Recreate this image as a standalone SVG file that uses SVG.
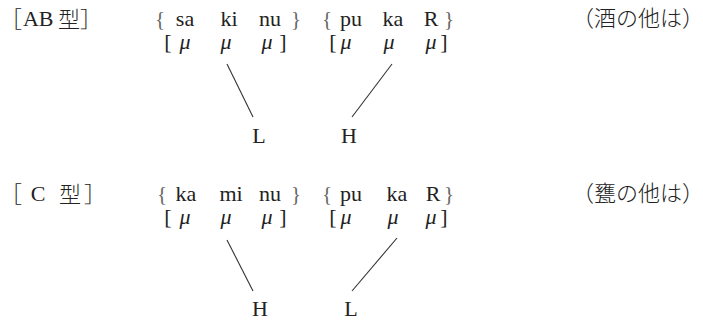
<svg xmlns="http://www.w3.org/2000/svg" width="703" height="320" viewBox="0 0 703 320">
<style>
text{font-family:"Liberation Serif","Noto Sans CJK JP",serif;font-size:22px;fill:#222;text-anchor:middle}
.cj{font-family:"Noto Sans CJK JP",sans-serif;font-size:22px;font-weight:300}
.st{text-anchor:start}
.mu{font-style:italic}
.br{fill:#666;font-size:21px}
.ln{stroke:#333;stroke-width:1.1;fill:none}
</style>
<rect width="703" height="320" fill="#fff"/>
<g id="blockAB">
<g id="labelAB"><text class="cj st" x="0" y="27">［</text><text x="31" y="26">A</text><text x="46" y="26">B</text><text class="cj" x="69" y="27">型</text><text class="cj" x="91" y="27">］</text></g>
<g id="wordsAB"><text class="br" x="160" y="26">{</text><text x="185" y="26">sa</text><text x="229" y="26">ki</text><text x="270" y="26">nu</text><text class="br" x="296" y="26">}</text>
<text class="br" x="327" y="26">{</text><text x="351" y="26">pu</text><text x="393" y="26">ka</text><text x="431" y="26">R</text><text class="br" x="449" y="26">}</text></g>
<g id="moraAB"><text x="168" y="49">[</text><text class="mu" x="185" y="49">μ</text><text class="mu" x="226" y="49">μ</text><text class="mu" x="267" y="49">μ</text><text x="283" y="49">]</text>
<text x="333" y="49">[</text><text class="mu" x="346" y="49">μ</text><text class="mu" x="389" y="49">μ</text><text class="mu" x="431" y="49">μ</text><text x="444" y="49">]</text></g>
<g id="toneAB"><text x="259" y="143">L</text><text x="349" y="143">H</text></g>
<g id="noteAB"><text class="cj" x="638" y="26">（酒の他は）</text></g>
</g>
<g id="blockC">
<g id="labelC"><text class="cj st" x="0" y="202">［</text><text x="38" y="201">C</text><text class="cj" x="70" y="202">型</text><text class="cj" x="95" y="202">］</text></g>
<g id="wordsC"><text class="br" x="162" y="201">{</text><text x="186" y="201">ka</text><text x="231" y="201">mi</text><text x="270" y="201">nu</text><text class="br" x="296" y="201">}</text>
<text class="br" x="327" y="201">{</text><text x="351" y="201">pu</text><text x="397" y="201">ka</text><text x="433" y="201">R</text><text class="br" x="449" y="201">}</text></g>
<g id="moraC"><text x="168" y="224">[</text><text class="mu" x="185" y="224">μ</text><text class="mu" x="226" y="224">μ</text><text class="mu" x="267" y="224">μ</text><text x="283" y="224">]</text>
<text x="333" y="224">[</text><text class="mu" x="346" y="224">μ</text><text class="mu" x="393" y="224">μ</text><text class="mu" x="431" y="224">μ</text><text x="444" y="224">]</text></g>
<g id="toneC"><text x="260" y="316">H</text><text x="351" y="316">L</text></g>
<g id="noteC"><text class="cj" x="638" y="201">（甕の他は）</text></g>
</g>
<g id="connectors">
<line class="ln" x1="227" y1="64" x2="253" y2="117"/>
<line class="ln" x1="392" y1="64" x2="352" y2="117"/>
<line class="ln" x1="227" y1="240" x2="253" y2="291"/>
<line class="ln" x1="397" y1="238" x2="352" y2="291"/>
</g>
</svg>
